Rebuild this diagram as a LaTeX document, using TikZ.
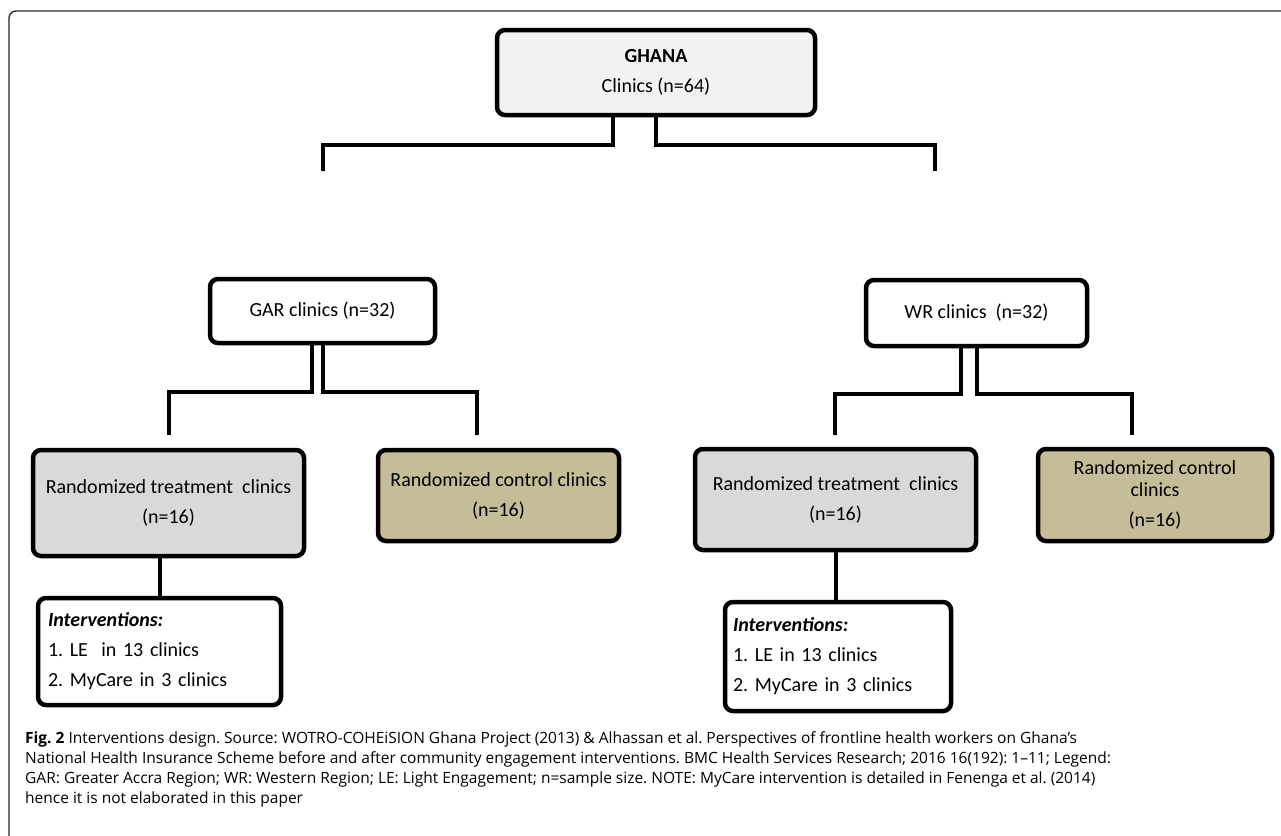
\documentclass[tikz,border=0pt]{standalone}
\usepackage{fontspec}
\setmainfont{Carlito}
\newfontfamily\capfont{Open Sans}
\definecolor{ghanagray}{HTML}{F2F2F2}
\definecolor{treatgray}{HTML}{D9D9D9}
\definecolor{ctrltan}{HTML}{C4BD97}
\frenchspacing

\begin{document}
\begin{tikzpicture}[x=1pt,y=-1pt,
    box/.style={draw, line width=4.5pt, rounded corners=8pt, align=center, inner sep=0pt, font=\fontsize{20}{30}\selectfont},
    link/.style={line width=4pt}]
  \useasboundingbox (0,0) rectangle (1281,835);
  \draw[line width=1.3pt, rounded corners=7pt, black!85] (9,11) rectangle (1320,860);

  \node[box, fill=ghanagray, minimum width=318pt, minimum height=85pt] (ghana) at (656,72.5) {\textbf{GHANA}\\Clinics (n=64)};
  \node[box, fill=white, minimum width=225pt, minimum height=64pt] (gar) at (322.5,311) {GAR clinics (n=32)};
  \node[box, fill=white, minimum width=221pt, minimum height=66pt] (wr) at (976.5,313) {WR clinics\ \ (n=32)};

  \node[box, fill=treatgray, minimum width=271pt, minimum height=106pt] (treatL) at (168.5,503) {Randomized treatment\ \ clinics\\(n=16)};
  \node[box, fill=ctrltan, minimum width=241pt, minimum height=91pt] (ctrlL) at (498.5,495.5) {Randomized control clinics\\(n=16)};
  \node[box, fill=treatgray, minimum width=281pt, minimum height=101pt] (treatR) at (835.5,499.5) {Randomized treatment\ \ clinics\\(n=16)};
  \node[box, fill=ctrltan, minimum width=234pt, minimum height=92pt] (ctrlR) at (1155,495) {Randomized control\\[-8pt]clinics\\(n=16)};

  \node[box, fill=white, align=left, text width=223pt, inner xsep=10pt, minimum height=107pt] (intL) at (159.5,651.5) {\textbf{\textit{Interventions:}}\\1. LE\ \ in 13 clinics\\2. MyCare in 3 clinics};
  \node[box, fill=white, align=left, text width=210pt, inner xsep=8pt, minimum height=109pt] (intR) at (838,656.5) {\textbf{\textit{Interventions:}}\\1. LE in 13 clinics\\2. MyCare in 3 clinics};

  \coordinate (garEnd) at (323,171);
  \coordinate (wrEnd) at (935,171);
  \coordinate (treatLEnd) at (169,435);
  \coordinate (ctrlLEnd) at (477,435);
  \coordinate (treatREnd) at (835,435);
  \coordinate (ctrlREnd) at (1132,435);

  \draw[link] ([xshift=-43pt]ghana.south) -- ++(0,28) -| (garEnd);
  \draw[link] (ghana.south) -- ++(0,28) -| (wrEnd);
  \draw[link] ([xshift=-11pt]gar.south) -- ++(0,47) -| (treatLEnd);
  \draw[link] (gar.south) -- ++(0,47) -| (ctrlLEnd);
  \draw[link] ([xshift=-16pt]wr.south) -- ++(0,46) -| (treatREnd);
  \draw[link] (wr.south) -- ++(0,46) -| (ctrlREnd);
  \draw[link] (intL.north |- treatL.south) -- (intL.north);
  \draw[link] (treatR.south) -- (treatR.south |- intR.north);

  \node[anchor=north west, inner sep=0pt, align=left, font=\capfont\fontsize{15.5}{20}\selectfont] (caption) at (25,731) {\textbf{Fig. 2} Interventions design. Source: WOTRO-COHEiSION Ghana Project (2013) \& Alhassan et al. Perspectives of frontline health workers on Ghana’s\\National Health Insurance Scheme before and after community engagement interventions. BMC Health Services Research; 2016 16(192): 1–11; Legend:\\GAR: Greater Accra Region; WR: Western Region; LE: Light Engagement; n=sample size. NOTE: MyCare intervention is detailed in Fenenga et al. (2014)\\hence it is not elaborated in this paper};
\end{tikzpicture}
\end{document}
